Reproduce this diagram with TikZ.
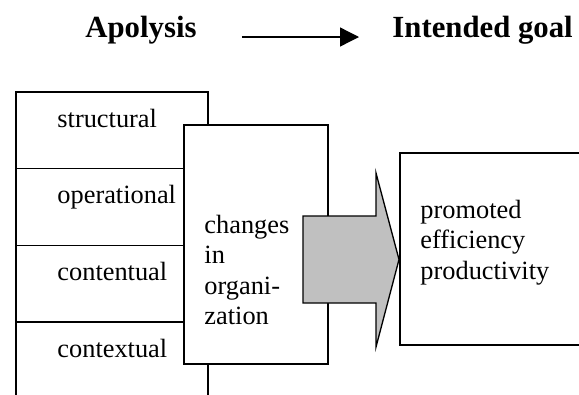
\documentclass[tikz,border=0pt]{standalone}
\usepackage{fontspec}
\setmainfont{Liberation Serif}
\usepackage{xcolor}
\usepackage{tikz}
\usetikzlibrary{arrows.meta,positioning}
\definecolor{flowGray}{HTML}{C0C0C0}

\begin{document}
\begin{tikzpicture}[
    >=Latex,
    node distance=0pt,
    every node/.style={font=\fontsize{12}{13.9}\selectfont},
    title/.style={font=\fontsize{14}{16}\selectfont\bfseries,inner sep=0pt,anchor=base west},
    rowbox/.style={rectangle,draw,line width=0.6pt,minimum width=3.072cm,
                  minimum height=1.227cm,inner sep=0pt,outer sep=0pt},
    bigbox/.style={rectangle,draw,line width=0.6pt,fill=white,inner sep=0pt,outer sep=0pt},
    lbl/.style={inner sep=0pt,anchor=base west,align=left},
    flowarrow/.style={draw,line width=0.6pt,fill=flowGray}
  ]
  \useasboundingbox (0,0) rectangle (9.264,6.304);
  %% Heading
  \node[title] (apo)  at (1.36,5.712)  {Apolysis};
  \node[title] (goal) at (6.272,5.712) {Intended goal};
  \draw[line width=0.6pt,-{Triangle[length=8.6pt,width=8.6pt]}]
    ([xshift=0.72cm]apo.base east) -- ([xshift=-0.528cm]goal.base west);
  %% Four aspects of apolysis
  \node[rowbox,anchor=north west] (r1) at (0.256,4.832) {};
  \node[rowbox,below=of r1] (r2) {};
  \node[rowbox,below=of r2] (r3) {};
  \node[rowbox,below=of r3] (r4) {};
  \node[lbl] at ([xshift=0.656cm,yshift=-0.56cm]r1.north west) {structural};
  \node[lbl] at ([xshift=0.656cm,yshift=-0.56cm]r2.north west) {operational};
  \node[lbl] at ([xshift=0.656cm,yshift=-0.56cm]r3.north west) {contentual};
  \node[lbl] at ([xshift=0.656cm,yshift=-0.56cm]r4.north west) {contextual};
  %% Changes in the organization
  \node[bigbox,anchor=north west,minimum width=2.304cm,minimum height=3.824cm]
    (chg) at (2.944,4.304) {};
  \node[lbl,text width=2cm] at ([xshift=0.32cm,yshift=-1.728cm]chg.north west)
    {changes\\in\\organi-\\zation};
  %% Block arrow
  \draw[flowarrow] (4.848,2.848) -- (6.016,2.848) -- (6.016,3.536) -- (6.384,2.152)
    -- (6.016,0.752) -- (6.016,1.456) -- (4.848,1.456) -- cycle;
  %% Intended goal
  \node[bigbox,anchor=north west,minimum width=3.3cm,minimum height=3.072cm]
    (res) at (6.4,3.856) {};
  \node[lbl,text width=2.5cm] at ([xshift=0.32cm,yshift=-1.04cm]res.north west)
    {promoted\\efficiency\\productivity};
\end{tikzpicture}
\end{document}
